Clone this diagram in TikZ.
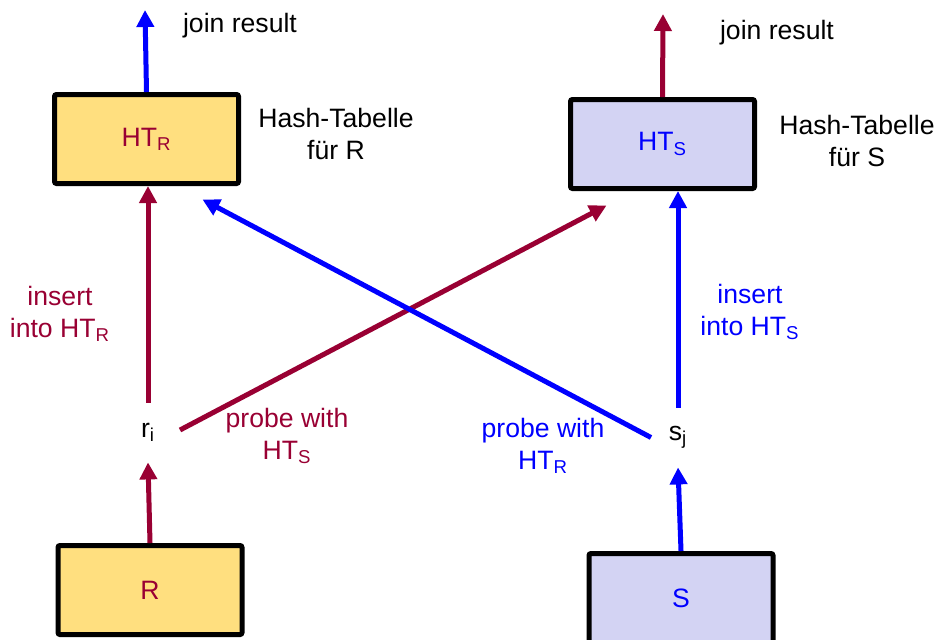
\documentclass[tikz,border=0pt]{standalone}
\usepackage{fontspec}
\setmainfont{Liberation Sans}
\usetikzlibrary{arrows.meta}

\definecolor{crimson}{RGB}{153,0,51}
\definecolor{pureblue}{RGB}{0,0,255}
\definecolor{yellowfill}{RGB}{255,223,127}
\definecolor{lavender}{RGB}{211,211,243}

\begin{document}
\begin{tikzpicture}[x=0.5pt, y=-0.5pt]
	\tikzstyle{hashtab} = [ draw, rectangle, rounded corners=1pt, line width=2.5pt, minimum width=92pt, minimum height=44.5pt, font={\fontsize{13.3}{16}\selectfont}];
	\tikzstyle{tup} = [ inner sep=0pt, minimum height=29.5pt, font={\fontsize{13.3}{16}\selectfont}];
	\tikzstyle{note} = [ align=center, font={\fontsize{13.3}{16}\selectfont}];
	\tikzstyle{flow} = [ -{Triangle[width=8.5pt,length=8.5pt]}, line width=2.5pt ];

	\useasboundingbox (0,0) rectangle (951,639);

	% relations and hash tables
	\node[hashtab, fill=yellowfill, text=crimson] (htr) at (146.5,139) {HT\textsubscript{R}};
	\node[hashtab, fill=lavender, text=pureblue] (hts) at (662.5,144) {HT\textsubscript{S}};
	\node[hashtab, fill=yellowfill, text=crimson] (rrel) at (150,590) {R};
	\node[hashtab, fill=lavender, text=pureblue] (srel) at (681,598) {S};

	% current tuples
	\node[tup] (ri) at (148,432.5) {r\textsubscript{i}};
	\node[tup] (sj) at (678,437.5) {s\textsubscript{j}};

	\coordinate (outr) at (145,10);
	\coordinate (outs) at (663,14);

	% R side
	\draw[flow, crimson] (rrel.north) -- (ri.south);
	\draw[flow, crimson] (ri.north) -- (ri.north |- htr.south);
	\draw[flow, crimson] ([xshift=16pt,yshift=1.25pt]ri.center) -- ([xshift=19.25pt,yshift=-7.25pt]hts.south west);
	\draw[flow, crimson] (hts.north) -- (outs);

	% S side
	\draw[flow, pureblue] (srel.north) -- (sj.south);
	\draw[flow, pureblue] (sj.north) -- (sj.north |- hts.south);
	\draw[flow, pureblue] ([xshift=-13.5pt]sj.center) -- ([xshift=-19.25pt,yshift=-6.75pt]htr.south east);
	\draw[flow, pureblue] (htr.north) -- (outr);

	% labels
	\node[note] (joinr) at (240,26) {join result};
	\node[note] (joins) at (777,33) {join result};
	\node[note] (infor) at (336,134) {Hash-Tabelle\\für R};
	\node[note] (infos) at (857,141) {Hash-Tabelle\\für S};
	\node[note, text=crimson] (insr) at (60,314) {insert\\into HT\textsubscript{R}};
	\node[note, text=pureblue] (inss) at (750,312) {insert\\into HT\textsubscript{S}};
	\node[note, text=crimson] (prbr) at (287,436) {probe with\\HT\textsubscript{S}};
	\node[note, text=pureblue] (prbs) at (543,446) {probe with\\HT\textsubscript{R}};
\end{tikzpicture}
\end{document}
